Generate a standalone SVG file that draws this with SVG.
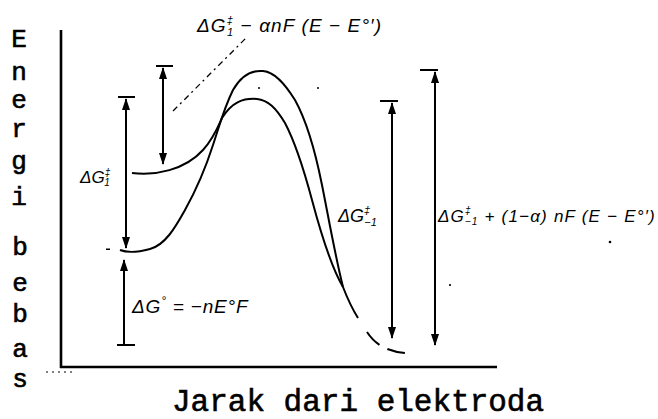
<svg xmlns="http://www.w3.org/2000/svg" width="658" height="419" viewBox="0 0 658 419">
<defs>
<marker id="ah" viewBox="0 0 12 8" refX="11" refY="4" markerWidth="12" markerHeight="8" markerUnits="userSpaceOnUse" orient="auto-start-reverse">
<path d="M0,0 L12,4 L0,8 z" fill="#000"/>
</marker>
<style>
.ax{stroke:#000;stroke-width:2.6;fill:none}
.cv{stroke:#000;stroke-width:2;fill:none}
.ar{stroke:#000;stroke-width:2;fill:none;marker-start:url(#ah);marker-end:url(#ah)}
.ar1{stroke:#000;stroke-width:2;fill:none;marker-end:url(#ah)}
.bar{stroke:#000;stroke-width:2}
.mono{font-family:"Liberation Mono","DejaVu Sans Mono",monospace;fill:#000;stroke:#000;stroke-width:0.6}
.f{font-family:"Liberation Sans","DejaVu Sans",sans-serif;font-style:italic;fill:#000}
.dot{fill:#000}
</style>
</defs>
<rect width="658" height="419" fill="#fff"/>

<g id="axes">
<path class="ax" d="M61,30 L61,368 M60,367 L497,367"/>
<path d="M46,372 L72,372" stroke="#000" stroke-width="1.2" stroke-dasharray="2 4"/>
</g>

<g id="y-label" class="mono" font-size="26" text-anchor="middle">
<text x="19" y="47">E</text>
<text x="19" y="80">n</text>
<text x="19" y="108">e</text>
<text x="19" y="137">r</text>
<text x="19" y="169">g</text>
<text x="19" y="205">i</text>
<text x="20" y="255">b</text>
<text x="20" y="291">e</text>
<text x="20" y="322">b</text>
<text x="20" y="357">a</text>
<text x="20" y="387">s</text>
</g>

<g id="x-label">
<text class="mono" x="172" y="411" font-size="31">Jarak dari elektroda</text>
</g>

<g id="curve-lower-min">
<path class="cv" d="M120,250 C125,252 135,253 150,249 C165,245 175,228 185,210 C195,192 205,170 213,145 C219,127 224,108 233,90 C241,76 252,70 263,71 C275,72 285,84 295,100 C305,118 315,150 322,185 C329,220 335,255 343,287 C348,300 353,310 358,318"/>
</g>

<g id="curve-upper-min">
<path class="cv" d="M132,173 C155,176 185,170 203,150 C213,139 218,127 222,118 C232,102 243,98 257,99 C268,100 276,108 285,123 C295,142 304,170 312,200 C320,230 330,265 343,287"/>
</g>

<g id="product-min">
<path class="cv" d="M367,332 Q380,352 407,353" stroke-dasharray="18 9"/>
</g>

<g id="connectors">
<line class="bar" x1="118" y1="97" x2="135" y2="97"/>
<line class="ar" x1="126" y1="99" x2="126" y2="248"/>
<line class="bar" x1="156" y1="66" x2="173" y2="66"/>
<line class="ar" x1="163" y1="68" x2="163" y2="164"/>
<line class="bar" x1="117" y1="345" x2="135" y2="345"/>
<line class="ar1" x1="124" y1="345" x2="124" y2="260"/>
<line class="bar" x1="380" y1="101" x2="398" y2="101"/>
<line class="ar" x1="392" y1="103" x2="392" y2="338"/>
<line class="bar" x1="420" y1="70" x2="438" y2="70"/>
<line class="ar" x1="435" y1="72" x2="435" y2="345"/>
<line x1="173" y1="111" x2="246" y2="38" stroke="#000" stroke-width="1.3" stroke-dasharray="6 4 2 4"/>
</g>

<g id="labels" class="f">
<text x="197" y="32" font-size="19" letter-spacing="1.1">ΔG<tspan font-size="11" dy="-8">‡</tspan><tspan font-size="11" dx="-7" dy="12">1</tspan><tspan dy="-4"> − αnF (E − E°′)</tspan></text>
<text x="80" y="183" font-size="17">ΔG<tspan font-size="10" dy="-7">‡</tspan><tspan font-size="10" dx="-6" dy="10">1</tspan></text>
<text x="132" y="313" font-size="19" letter-spacing="0.8">ΔG<tspan font-size="12" dy="-8">°</tspan><tspan dy="8"> = −nE°F</tspan></text>
<text x="338" y="222" font-size="18">ΔG<tspan font-size="11" dy="-8">‡</tspan><tspan font-size="11" dx="-6" dy="12">−1</tspan></text>
<text x="438" y="222" font-size="17" letter-spacing="1.2">ΔG<tspan font-size="10" dy="-8">‡</tspan><tspan font-size="10" dx="-7" dy="11">−1</tspan><tspan dy="-3"> + (1−α) nF (E − E°′)</tspan></text>
</g>

<g id="specks">
<circle class="dot" cx="259" cy="88" r="1"/>
<circle class="dot" cx="318" cy="88" r="1"/>
<circle class="dot" cx="610" cy="242" r="1.3"/>
<circle class="dot" cx="450" cy="285" r="1.1"/>
<rect class="dot" x="106" y="248.5" width="4" height="1.5"/>
</g>
</svg>
